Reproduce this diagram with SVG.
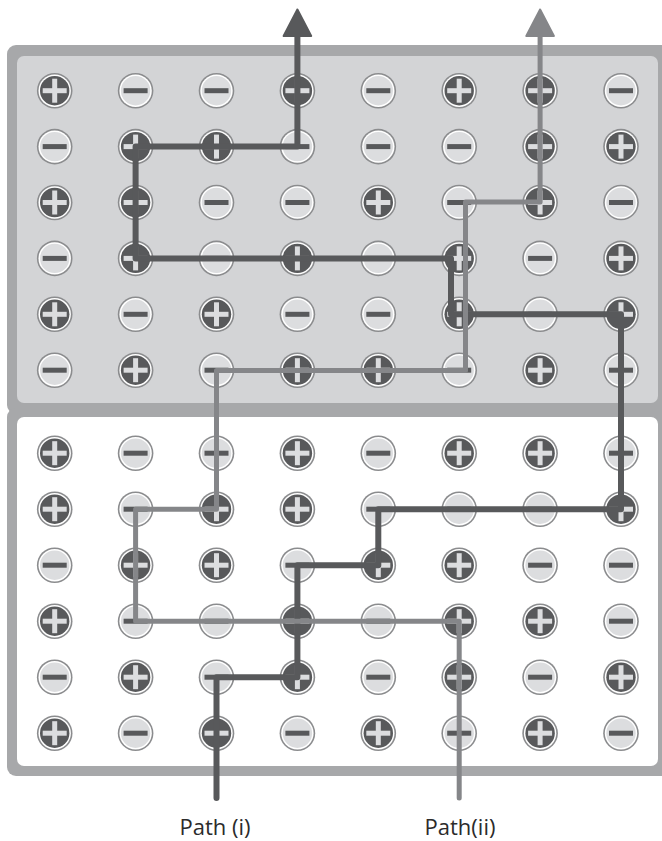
<svg xmlns="http://www.w3.org/2000/svg" xmlns:xlink="http://www.w3.org/1999/xlink" width="662" height="841" viewBox="0 0 662 841">
<style>
.frame{fill:#a7a8aa}
.inTop{fill:#d3d4d6}
.inBot{fill:#ffffff}
.p1{fill:none;stroke:#58595b;stroke-width:6;stroke-linejoin:round;stroke-linecap:round}
.p2{fill:none;stroke:#858689;stroke-width:5;stroke-linejoin:round;stroke-linecap:round}
.h1{fill:#58595b;stroke:#58595b;stroke-width:2;stroke-linejoin:round}
.h2{fill:#858689;stroke:#858689;stroke-width:2;stroke-linejoin:round}
.lbl{font-family:"Open Sans","Liberation Sans",sans-serif;font-size:22px;fill:#2b2b2b;text-anchor:middle}
</style>
<defs>
<g id="P">
<circle r="17.8" fill="#8b8c8e"/>
<circle r="16.2" fill="#ffffff"/>
<circle r="14.7" fill="#58595b"/>
<rect x="-12" y="-2.5" width="24" height="5" fill="#dcdddf"/>
<rect x="-2.5" y="-12" width="5" height="24" fill="#dcdddf"/>
</g>
<g id="M">
<circle r="17.8" fill="#8b8c8e"/>
<circle r="16.2" fill="#ffffff"/>
<circle r="14.7" fill="#dcdddf"/>
<rect x="-12" y="-2.5" width="24" height="5" fill="#58595b"/>
</g>
</defs>

<g id="panels">
<rect class="frame" x="7" y="45" width="670" height="369" rx="9"/>
<rect class="frame" x="7" y="408" width="670" height="368" rx="9"/>
<rect class="inTop" x="17" y="56" width="641" height="347" rx="7"/>
<rect class="inBot" x="17" y="417" width="641" height="349" rx="7"/>
</g>

<g id="charges">
<g id="r1c1"><use href="#P" x="54.7" y="90.7"/></g>
<g id="r1c2"><use href="#M" x="135.6" y="90.7"/></g>
<g id="r1c3"><use href="#M" x="216.5" y="90.7"/></g>
<g id="r1c4"><use href="#P" x="297.4" y="90.7"/></g>
<g id="r1c5"><use href="#M" x="378.3" y="90.7"/></g>
<g id="r1c6"><use href="#P" x="459.2" y="90.7"/></g>
<g id="r1c7"><use href="#P" x="540.1" y="90.7"/></g>
<g id="r1c8"><use href="#M" x="621" y="90.7"/></g>

<g id="r2c1"><use href="#M" x="54.7" y="146.6"/></g>
<g id="r2c2"><use href="#P" x="135.6" y="146.6"/></g>
<g id="r2c3"><use href="#P" x="216.5" y="146.6"/></g>
<g id="r2c4"><use href="#M" x="297.4" y="146.6"/></g>
<g id="r2c5"><use href="#M" x="378.3" y="146.6"/></g>
<g id="r2c6"><use href="#M" x="459.2" y="146.6"/></g>
<g id="r2c7"><use href="#P" x="540.1" y="146.6"/></g>
<g id="r2c8"><use href="#P" x="621" y="146.6"/></g>

<g id="r3c1"><use href="#P" x="54.7" y="202.5"/></g>
<g id="r3c2"><use href="#P" x="135.6" y="202.5"/></g>
<g id="r3c3"><use href="#M" x="216.5" y="202.5"/></g>
<g id="r3c4"><use href="#M" x="297.4" y="202.5"/></g>
<g id="r3c5"><use href="#P" x="378.3" y="202.5"/></g>
<g id="r3c6"><use href="#M" x="459.2" y="202.5"/></g>
<g id="r3c7"><use href="#P" x="540.1" y="202.5"/></g>
<g id="r3c8"><use href="#M" x="621" y="202.5"/></g>

<g id="r4c1"><use href="#M" x="54.7" y="258.4"/></g>
<g id="r4c2"><use href="#P" x="135.6" y="258.4"/></g>
<g id="r4c3"><use href="#M" x="216.5" y="258.4"/></g>
<g id="r4c4"><use href="#P" x="297.4" y="258.4"/></g>
<g id="r4c5"><use href="#M" x="378.3" y="258.4"/></g>
<g id="r4c6"><use href="#P" x="459.2" y="258.4"/></g>
<g id="r4c7"><use href="#M" x="540.1" y="258.4"/></g>
<g id="r4c8"><use href="#P" x="621" y="258.4"/></g>

<g id="r5c1"><use href="#P" x="54.7" y="314.3"/></g>
<g id="r5c2"><use href="#M" x="135.6" y="314.3"/></g>
<g id="r5c3"><use href="#P" x="216.5" y="314.3"/></g>
<g id="r5c4"><use href="#M" x="297.4" y="314.3"/></g>
<g id="r5c5"><use href="#M" x="378.3" y="314.3"/></g>
<g id="r5c6"><use href="#P" x="459.2" y="314.3"/></g>
<g id="r5c7"><use href="#M" x="540.1" y="314.3"/></g>
<g id="r5c8"><use href="#P" x="621" y="314.3"/></g>

<g id="r6c1"><use href="#M" x="54.7" y="370.2"/></g>
<g id="r6c2"><use href="#P" x="135.6" y="370.2"/></g>
<g id="r6c3"><use href="#M" x="216.5" y="370.2"/></g>
<g id="r6c4"><use href="#P" x="297.4" y="370.2"/></g>
<g id="r6c5"><use href="#P" x="378.3" y="370.2"/></g>
<g id="r6c6"><use href="#M" x="459.2" y="370.2"/></g>
<g id="r6c7"><use href="#P" x="540.1" y="370.2"/></g>
<g id="r6c8"><use href="#M" x="621" y="370.2"/></g>

<g id="r7c1"><use href="#P" x="54.7" y="453.2"/></g>
<g id="r7c2"><use href="#M" x="135.6" y="453.2"/></g>
<g id="r7c3"><use href="#M" x="216.5" y="453.2"/></g>
<g id="r7c4"><use href="#P" x="297.4" y="453.2"/></g>
<g id="r7c5"><use href="#M" x="378.3" y="453.2"/></g>
<g id="r7c6"><use href="#P" x="459.2" y="453.2"/></g>
<g id="r7c7"><use href="#P" x="540.1" y="453.2"/></g>
<g id="r7c8"><use href="#M" x="621" y="453.2"/></g>

<g id="r8c1"><use href="#P" x="54.7" y="509.2"/></g>
<g id="r8c2"><use href="#M" x="135.6" y="509.2"/></g>
<g id="r8c3"><use href="#P" x="216.5" y="509.2"/></g>
<g id="r8c4"><use href="#P" x="297.4" y="509.2"/></g>
<g id="r8c5"><use href="#M" x="378.3" y="509.2"/></g>
<g id="r8c6"><use href="#M" x="459.2" y="509.2"/></g>
<g id="r8c7"><use href="#M" x="540.1" y="509.2"/></g>
<g id="r8c8"><use href="#P" x="621" y="509.2"/></g>

<g id="r9c1"><use href="#M" x="54.7" y="565.2"/></g>
<g id="r9c2"><use href="#P" x="135.6" y="565.2"/></g>
<g id="r9c3"><use href="#P" x="216.5" y="565.2"/></g>
<g id="r9c4"><use href="#M" x="297.4" y="565.2"/></g>
<g id="r9c5"><use href="#P" x="378.3" y="565.2"/></g>
<g id="r9c6"><use href="#P" x="459.2" y="565.2"/></g>
<g id="r9c7"><use href="#M" x="540.1" y="565.2"/></g>
<g id="r9c8"><use href="#M" x="621" y="565.2"/></g>

<g id="r10c1"><use href="#P" x="54.7" y="621.2"/></g>
<g id="r10c2"><use href="#M" x="135.6" y="621.2"/></g>
<g id="r10c3"><use href="#M" x="216.5" y="621.2"/></g>
<g id="r10c4"><use href="#P" x="297.4" y="621.2"/></g>
<g id="r10c5"><use href="#M" x="378.3" y="621.2"/></g>
<g id="r10c6"><use href="#P" x="459.2" y="621.2"/></g>
<g id="r10c7"><use href="#P" x="540.1" y="621.2"/></g>
<g id="r10c8"><use href="#M" x="621" y="621.2"/></g>

<g id="r11c1"><use href="#M" x="54.7" y="677.2"/></g>
<g id="r11c2"><use href="#P" x="135.6" y="677.2"/></g>
<g id="r11c3"><use href="#M" x="216.5" y="677.2"/></g>
<g id="r11c4"><use href="#P" x="297.4" y="677.2"/></g>
<g id="r11c5"><use href="#M" x="378.3" y="677.2"/></g>
<g id="r11c6"><use href="#P" x="459.2" y="677.2"/></g>
<g id="r11c7"><use href="#M" x="540.1" y="677.2"/></g>
<g id="r11c8"><use href="#P" x="621" y="677.2"/></g>

<g id="r12c1"><use href="#P" x="54.7" y="733.2"/></g>
<g id="r12c2"><use href="#M" x="135.6" y="733.2"/></g>
<g id="r12c3"><use href="#P" x="216.5" y="733.2"/></g>
<g id="r12c4"><use href="#M" x="297.4" y="733.2"/></g>
<g id="r12c5"><use href="#P" x="378.3" y="733.2"/></g>
<g id="r12c6"><use href="#M" x="459.2" y="733.2"/></g>
<g id="r12c7"><use href="#P" x="540.1" y="733.2"/></g>
<g id="r12c8"><use href="#M" x="621" y="733.2"/></g>
</g>

<g id="connectors">
<g id="path-i">
<path class="p1" d="M216.5,798 V677.2 H297.4 V565.2 H378.3 V509.2 H621 V314.3 H451 V258.4 H135.6 V146.6 H297.4 V34"/>
<polygon class="h1" points="297.4,9.5 283.6,36 311.2,36"/>
</g>
<g id="path-ii">
<path class="p2" d="M459.2,798 V621.2 H135.6 V509.2 H216.5 V370.5 H465.5 V202 H540.1 V34"/>
<polygon class="h2" points="540.1,9.5 526.3,36 553.9,36"/>
</g>
</g>

<g id="labels">
<text class="lbl" x="215" y="834.5">Path (i)</text>
<text class="lbl" x="460" y="834.5">Path(ii)</text>
</g>
</svg>
